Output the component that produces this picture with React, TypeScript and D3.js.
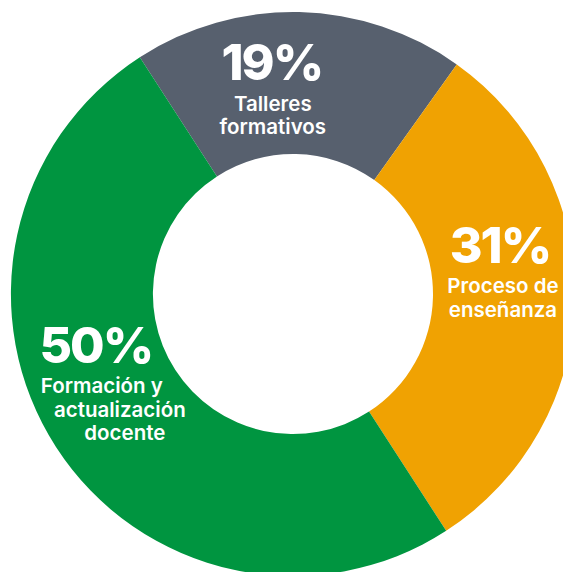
import React from "react";
import * as d3 from "d3";

const categories = ["Talleres formativos", "Proceso de enseñanza", "Formación y actualización docente"];
const values = [19, 31, 50];
const percentLabels = ["19%", "31%", "50%"];
const labelLines = [
  ["Talleres", "formativos"],
  ["Proceso de", "enseñanza"],
  ["Formación y", "actualización", "docente"],
];
const colors = ["#57606E", "#F0A202", "#009540"];

// layout / style
const W = 563;
const H = 572;
const CX = 293;
const CY = 294;
const R_OUT = 282;
const R_IN = 140;
const START = (-32.9 * Math.PI) / 180;
// per-label offsets from the arc centroid
const labelOffsets = [
  { dx: -26, pctY: -3, lineDx: [1, 1] },
  { dx: -4, pctY: -36, lineDx: [3, 3] },
  { dx: -20, pctY: -46, lineDx: [6, 24, 29] },
];
const FONT = "Inter, 'Open Sans', sans-serif";

export default function App() {
  const pie = d3
    .pie<number>()
    .sort(null)
    .value((d) => d)
    .startAngle(START)
    .endAngle(START + 2 * Math.PI);
  const arcs = pie(values);
  const arc = d3.arc<d3.PieArcDatum<number>>().innerRadius(R_IN).outerRadius(R_OUT);

  return (
    <svg
      width={W}
      height={H}
      style={{ position: "absolute", left: 0, top: 0 }}
      fontFamily={FONT}
    >
      <g transform={`translate(${CX},${CY})`}>
        {arcs.map((a, i) => (
          <path key={categories[i]} d={arc(a) || ""} fill={colors[i]} />
        ))}
        {arcs.map((a, i) => {
          const [x, y] = arc.centroid(a);
          const o = labelOffsets[i];
          const px = x + o.dx;
          const py = y + o.pctY;
          return (
            <g key={"l" + i} fill="#fff" textAnchor="middle">
              <text x={px} y={py} fontSize={50} fontWeight={800} letterSpacing={-2}>
                {percentLabels[i]}
              </text>
              {labelLines[i].map((ln, j) => (
                <text
                  key={j}
                  x={px + o.lineDx[j]}
                  y={py + 30.5 + j * 23.5}
                  fontSize={20.5}
                  fontWeight={600}
                >
                  {ln}
                </text>
              ))}
            </g>
          );
        })}
      </g>
    </svg>
  );
}
